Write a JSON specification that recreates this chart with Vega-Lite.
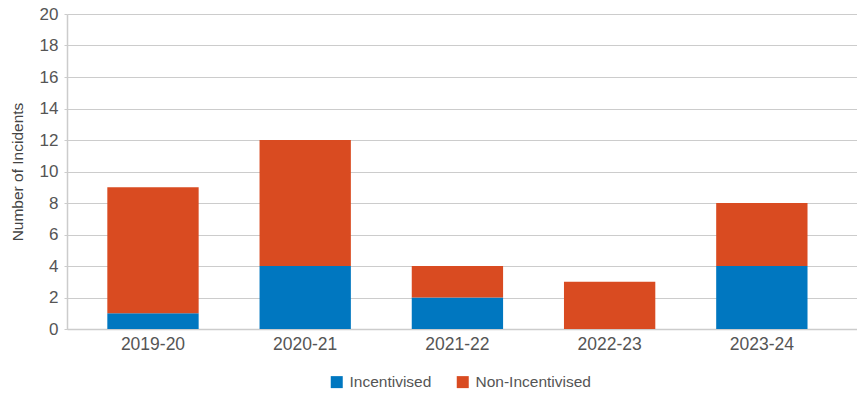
{
  "$schema": "https://vega.github.io/schema/vega-lite/v6.json",
  "width": 790,
  "height": 315,
  "autosize": {"type": "none"},
  "padding": {"left": 67, "top": 14, "right": 0, "bottom": 65},
  "background": "white",
  "config": {
    "font": "Liberation Sans",
    "view": {"stroke": null}
  },
  "data": {
    "values": [
      {"year": "2019-20", "type": "Incentivised", "count": 1},
      {"year": "2019-20", "type": "Non-Incentivised", "count": 8},
      {"year": "2020-21", "type": "Incentivised", "count": 4},
      {"year": "2020-21", "type": "Non-Incentivised", "count": 8},
      {"year": "2021-22", "type": "Incentivised", "count": 2},
      {"year": "2021-22", "type": "Non-Incentivised", "count": 2},
      {"year": "2022-23", "type": "Incentivised", "count": 0},
      {"year": "2022-23", "type": "Non-Incentivised", "count": 3},
      {"year": "2023-24", "type": "Incentivised", "count": 4},
      {"year": "2023-24", "type": "Non-Incentivised", "count": 4}
    ]
  },
  "mark": {"type": "bar"},
  "encoding": {
    "x": {
      "field": "year",
      "type": "nominal",
      "sort": null,
      "scale": {"paddingInner": 0.4, "paddingOuter": 0.295, "align": 0.449},
      "axis": {
        "title": null,
        "labelAngle": 0,
        "labelFontSize": 17.5,
        "labelColor": "#555555",
        "labelPadding": 6,
        "ticks": false,
        "domainColor": "#cccccc",
        "domainWidth": 1.5
      }
    },
    "y": {
      "field": "count",
      "type": "quantitative",
      "stack": "zero",
      "scale": {"domain": [0, 20]},
      "axis": {
        "title": "Number of Incidents",
        "titleFontSize": 15.5,
        "titleFontWeight": "normal",
        "titleColor": "#444444",
        "titlePadding": 14,
        "values": [0, 2, 4, 6, 8, 10, 12, 14, 16, 18, 20],
        "labelFontSize": 17,
        "labelColor": "#555555",
        "labelPadding": 6,
        "tickSize": 3,
        "tickColor": "#cccccc",
        "domainColor": "#cccccc",
        "domainWidth": 1.5,
        "gridColor": "#cccccc",
        "gridWidth": 1
      }
    },
    "color": {
      "field": "type",
      "type": "nominal",
      "scale": {"domain": ["Incentivised", "Non-Incentivised"], "range": ["#0077c0", "#d94b21"]},
      "legend": {
        "title": null,
        "orient": "none",
        "direction": "horizontal",
        "legendX": 262,
        "legendY": 360,
        "symbolType": "square",
        "symbolSize": 144,
        "symbolStrokeWidth": 0,
        "symbolOpacity": 1,
        "labelFontSize": 15.5,
        "labelColor": "#555555",
        "labelOffset": 5,
        "columnPadding": 23
      }
    },
    "order": {"field": "type", "sort": "ascending"}
  }
}
